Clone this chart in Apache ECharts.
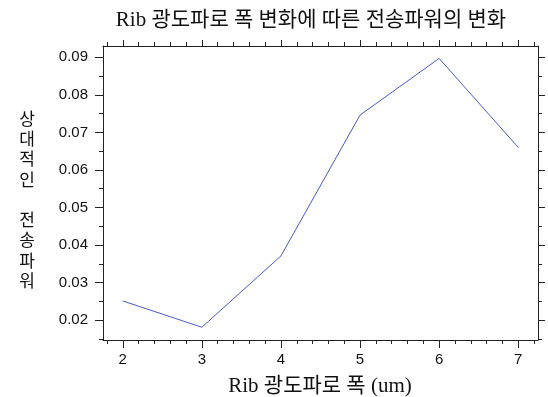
<!DOCTYPE html>
<html><head><meta charset="utf-8">
<script src="https://cdn.jsdelivr.net/npm/echarts@6/dist/echarts.min.js"></script>
<style>html,body{margin:0;padding:0;background:#fff}#c{width:548px;height:397px}</style>
</head><body><div id="c"></div>
<script>
const widths = [2, 3, 4, 5, 6, 7];
const power = [0.0251, 0.0181, 0.0371, 0.0746, 0.0897, 0.0660];
const xMajor = [2, 3, 4, 5, 6, 7];
const xMinor = [1.8, 2.2, 2.4, 2.6, 2.8, 3.2, 3.4, 3.6, 3.8, 4.2, 4.4, 4.6, 4.8, 5.2, 5.4, 5.6, 5.8, 6.2, 6.4, 6.6, 6.8, 7.2];
const yMajor = [0.02, 0.03, 0.04, 0.05, 0.06, 0.07, 0.08, 0.09];
const yMinor = [0.015, 0.025, 0.035, 0.045, 0.055, 0.065, 0.075, 0.085];
const titleText = 'Rib 광도파로 폭 변화에 따른 전송파워의 변화';
const xName = 'Rib 광도파로 폭 (um)';
const yName = '상대적인 전송파워';

const XMIN = 1.75, XMAX = 7.25, YMIN = 0.0147, YMAX = 0.093;
const axisColor = '#222';
const serif = "'Liberation Serif', 'Noto Sans CJK KR', serif";
const sans = "'Liberation Sans', Arial, sans-serif";

function xa(pos, ticks, len, labels, showLine) {
  return {
    type: 'value', position: pos, min: XMIN, max: XMAX,
    axisLine: { show: showLine, onZero: false, lineStyle: { color: axisColor, width: 1 } },
    axisTick: { show: true, inside: false, length: len, customValues: ticks, lineStyle: { color: axisColor } },
    axisLabel: labels ? { show: true, customValues: ticks, color: '#111', fontSize: 15, fontFamily: sans, margin: 12 } : { show: false },
    splitLine: { show: false }
  };
}
function ya(pos, ticks, len, labels, showLine) {
  return {
    type: 'value', position: pos, min: YMIN, max: YMAX,
    axisLine: { show: showLine, onZero: false, lineStyle: { color: axisColor, width: 1 } },
    axisTick: { show: true, inside: false, length: len, customValues: ticks, lineStyle: { color: axisColor } },
    axisLabel: labels ? { show: true, customValues: ticks, color: '#111', fontSize: 15, fontFamily: sans, margin: 15,
      formatter: v => v.toFixed(2) } : { show: false },
    splitLine: { show: false }
  };
}

const chart = echarts.init(document.getElementById('c'), null, { renderer: 'canvas' });
chart.setOption({
  animation: false,
  backgroundColor: '#fff',
  title: {
    text: titleText, left: 306, top: 5, textAlign: 'center',
    textStyle: { fontFamily: serif, fontSize: 21, fontWeight: 'normal', color: '#111' }
  },
  grid: { left: 103, right: 10, top: 46, bottom: 57, containLabel: false },
  xAxis: [
    xa('bottom', xMajor, 8, true, true),
    xa('bottom', xMinor, 4, false, false),
    xa('top', xMajor, 6, false, true),
    xa('top', xMinor, 4, false, false)
  ],
  yAxis: [
    ya('left', yMajor, 8, true, true),
    ya('left', yMinor, 4, false, false),
    ya('right', yMajor, 7, false, true),
    ya('right', yMinor, 4, false, false)
  ],
  graphic: [
    { type: 'text', x: 320, y: 386, style: { text: xName, fontFamily: serif, fontSize: 21, fill: '#111', align: 'center', verticalAlign: 'middle' } },
    { type: 'text', x: 27, y: 108, style: { text: yName.split('').join('\n'), fontFamily: "'Noto Sans CJK KR', sans-serif", fontSize: 17, lineHeight: 20.3, fill: '#111', align: 'center' } }
  ],
  series: [{
    type: 'line', xAxisIndex: 0, yAxisIndex: 0,
    data: widths.map((w, i) => [w, power[i]]),
    showSymbol: false, symbol: 'none',
    lineStyle: { color: '#4a5bc2', width: 1 }
  }]
});
</script></body></html>
